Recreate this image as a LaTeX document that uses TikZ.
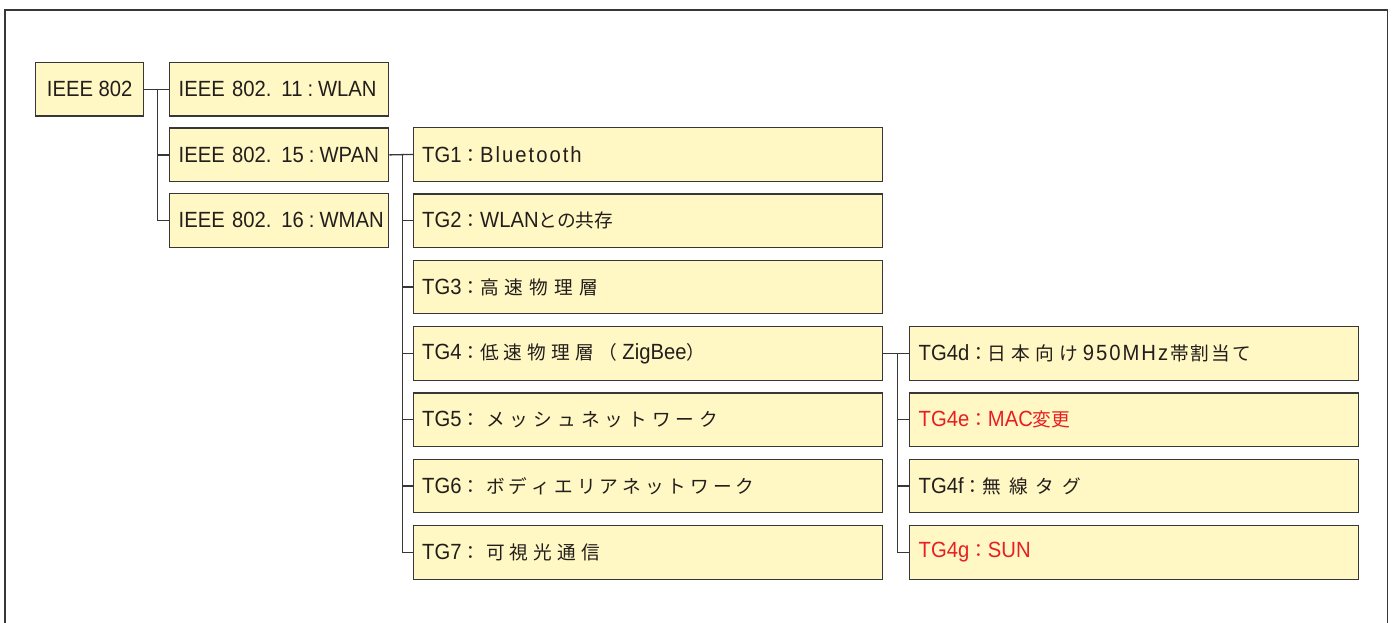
\documentclass[tikz,border=0pt]{standalone}
\usepackage{fontspec}
\setmainfont{Liberation Sans}[FakeStretch=0.92]
\newfontfamily\jp{Noto Sans CJK JP}[Scale=0.85]
\definecolor{boxfill}{RGB}{255,248,196}
\definecolor{boxline}{RGB}{55,55,55}
\definecolor{txt}{RGB}{35,30,28}
\definecolor{hot}{RGB}{232,30,37}
\newcommand\spc[2]{\def\spcgap{#1}\spcaux#2\relax}
\def\spcaux#1{\ifx\relax#1\else#1\hspace{\spcgap}\expandafter\spcaux\fi}
\newcommand\jsp[2]{{\jp\spc{#1}{#2}}}
\newcommand\col{{\jp ：}}
\newcommand\std[2]{\mbox{IEEE 802.\hspace{10pt}#1\hspace{5pt}:\hspace{5pt}#2}}
\begin{document}
\begin{tikzpicture}[x=1pt,y=-1pt,
  every node/.style={font=\fontsize{22}{26}\selectfont},
  box/.style={draw=boxline, fill=boxfill, line width=1.3pt, minimum height=53.5pt,
    inner sep=0pt, anchor=north west, text=txt},
  rootbox/.style={box, minimum width=108pt},
  lvlone/.style={box, minimum width=219pt, text width=201pt, align=left},
  lvltwo/.style={box, minimum width=469pt, text width=452pt, align=left},
  lvlthree/.style={box, minimum width=449pt, text width=431pt, align=left},
  link/.style={draw=boxline, line width=1.3pt},
  frame/.style={draw=boxline, line width=1.6pt}]
\useasboundingbox (0,0) rectangle (1392,623);
\draw[frame] (5,630) -- (5,10) -- (1387.5,10) -- (1387.5,630);

\node[rootbox] (root) at (35,62) {IEEE 802};
\node[lvlone] (w11) at (169,62) {\std{11}{WLAN}};
\node[lvlone] (w15) at (169,127.5) {\std{15}{WPAN}};
\node[lvlone] (w16) at (169,193) {\std{16}{WMAN}};

\node[lvltwo] (tg1) at (413,127) {TG1\col\spc{2pt}{Bluetooth}};
\node[lvltwo] (tg2) at (413,193.3) {TG2\col WLAN{\jp との共存}};
\node[lvltwo] (tg3) at (413,259.6) {TG3\col\jsp{6pt}{高速物理層}};
\node[lvltwo] (tg4) at (413,326) {TG4\col\jsp{5pt}{低速物理層（}ZigBee{\jp ）}};
\node[lvltwo] (tg5) at (413,392.3) {TG5\col\hspace{6pt}\jsp{5pt}{メッシュネットワーク}};
\node[lvltwo] (tg6) at (413,458.6) {TG6\col\hspace{6pt}\jsp{4pt}{ボディエリアネットワーク}};
\node[lvltwo] (tg7) at (413,525) {TG7\col\hspace{6pt}\jsp{5pt}{可視光通信}};

\node[lvlthree] (tg4d) at (909,326) {TG4d\col\jsp{5pt}{日本向け}\spc{2pt}{950MHz}\jsp{2pt}{帯割当て}};
\node[lvlthree, text=hot] (tg4e) at (909,392.3) {TG4e\col MAC{\jp 変更}};
\node[lvlthree] (tg4f) at (909,458.6) {TG4f\col\jsp{8pt}{無線タグ}};
\node[lvlthree, text=hot] (tg4g) at (909,525) {TG4g\col SUN};

% level one connectors
\coordinate (b1) at ([xshift=13pt]root.east);
\draw[link] (root.east) -- (w11.west);
\draw[link] (b1) |- (w15.west);
\draw[link] (b1) |- (w16.west);
% level two connectors
\coordinate (b2) at ([xshift=13pt]w15.east);
\draw[link] (w15.east) -- (tg1.west);
\foreach \n in {tg2,tg3,tg4,tg5,tg6,tg7} \draw[link] (b2) |- (\n.west);
% level three connectors
\coordinate (b3) at ([xshift=14pt]tg4.east);
\draw[link] (tg4.east) -- (tg4d.west);
\foreach \n in {tg4e,tg4f,tg4g} \draw[link] (b3) |- (\n.west);
\end{tikzpicture}
\end{document}
